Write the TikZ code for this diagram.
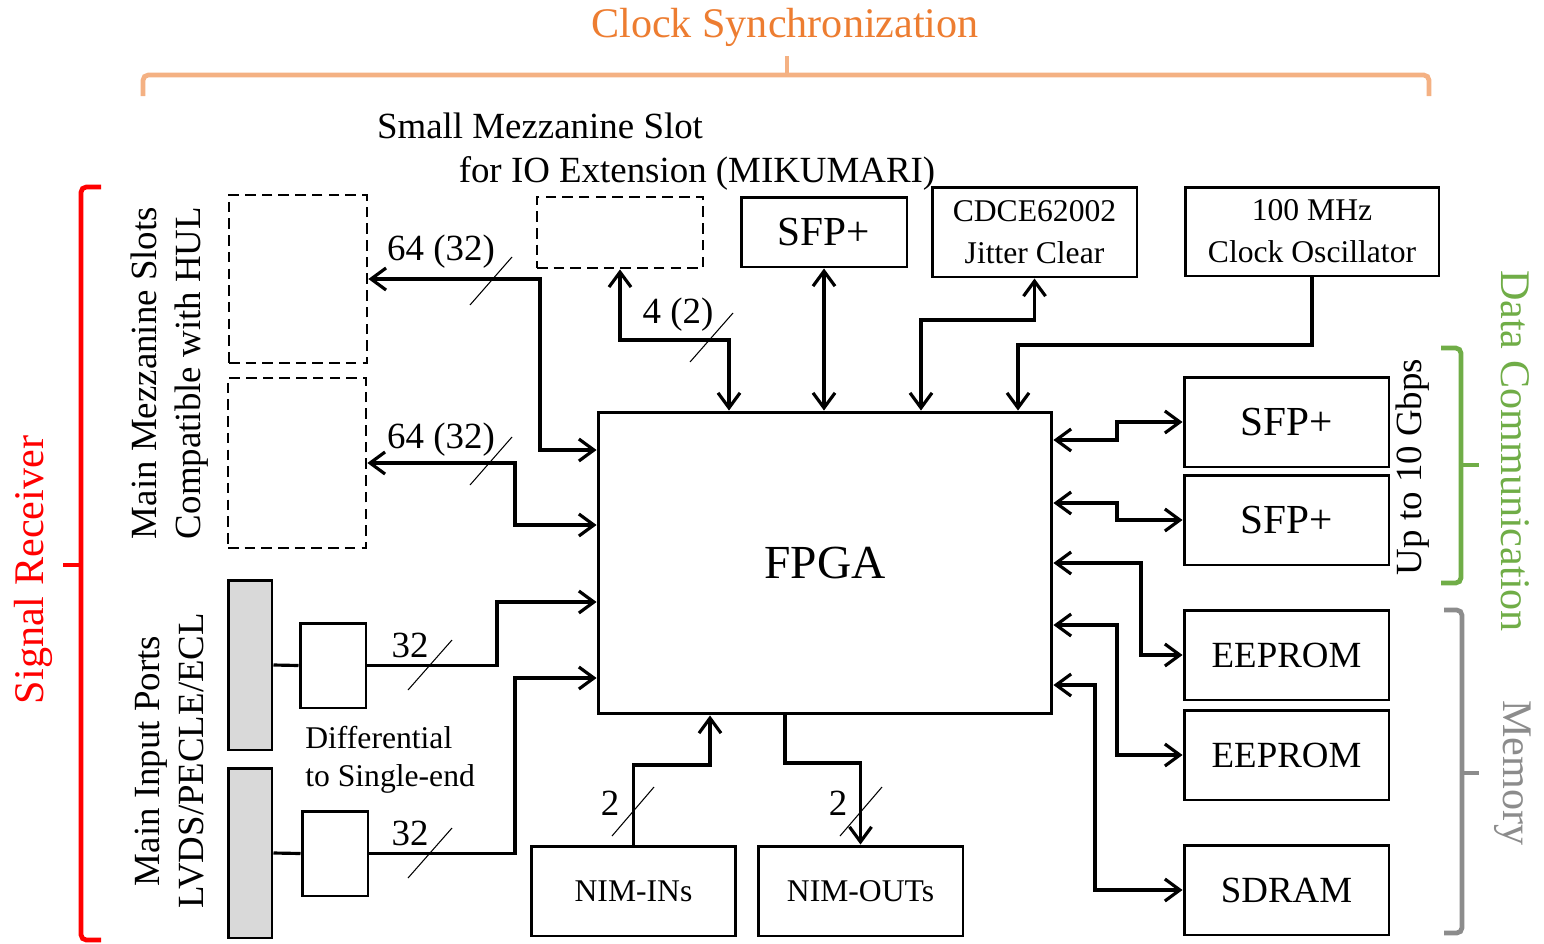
\documentclass[tikz,border=0pt]{standalone}
\usepackage{fontspec}
\setmainfont{Liberation Serif}
\usepackage{xcolor}
\usetikzlibrary{arrows.meta,positioning,calc}
\definecolor{clkorange}{HTML}{ED7D31}
\definecolor{clkbrace}{HTML}{F4B183}
\definecolor{datagreen}{HTML}{70AD47}
\definecolor{memgray}{HTML}{8C8C8C}
\tikzset{
  blockbox/.style={draw=black,line width=1.7pt,align=center,inner sep=0pt,
    font=\fontsize{21pt}{25pt}\selectfont},
  smallblock/.style={blockbox,font=\fontsize{18pt}{24pt}\selectfont},
  slotbox/.style={draw=black,line width=1.6pt,dash pattern=on 6pt off 3.5pt,inner sep=0pt},
  portbar/.style={draw=black,line width=1.7pt,fill=black!15,inner sep=0pt,
    minimum width=.88cm,minimum height=3.4cm},
  convbox/.style={draw=black,line width=1.7pt,inner sep=0pt,
    minimum width=1.32cm,minimum height=1.7cm},
  buslabel/.style={font=\fontsize{21pt}{25pt}\selectfont,inner sep=0pt},
  busmark/.style={line width=.6pt},
  link/.style={line width=1.8pt},
  onearrow/.style={link,-{Straight Barb[length=3mm,width=4.4mm]}},
  twoarrow/.style={link,{Straight Barb[length=3mm,width=4.4mm]}-{Straight Barb[length=3mm,width=4.4mm]}},
  groupbrace/.style={line width=2.7pt,rounded corners=3pt},
  grouplabel/.style={font=\fontsize{24pt}{29pt}\selectfont,inner sep=0pt}
}
\begin{document}
\begin{tikzpicture}[x=0.02cm,y=-0.02cm]
\useasboundingbox (0,0) rectangle (1544,943);
\node[blockbox,minimum width=9.08cm,minimum height=6.04cm,
  font=\fontsize{27pt}{32pt}\selectfont] (fpga) at (825,563) {FPGA};
\node[slotbox,minimum width=2.76cm,minimum height=3.36cm] (mezzA) at (298,279) {};
\node[slotbox,minimum width=2.76cm,minimum height=3.4cm] (mezzB) at (297,463) {};
\node[slotbox,minimum width=3.32cm,minimum height=1.42cm] (smz) at (620,232.5) {};
\node[blockbox,minimum width=3.32cm,minimum height=1.4cm,
  font=\fontsize{23.5pt}{28pt}\selectfont] (sfpT) at (824,232) {SFP+};
\node[smallblock,minimum width=4.1cm,minimum height=1.8cm] (cdce) at (1034.5,232) {CDCE62002\\Jitter Clear};
\node[smallblock,minimum width=5.08cm,minimum height=1.78cm] (osc) at (1312,231.5) {100 MHz\\Clock Oscillator};
\node[blockbox,minimum width=4.1cm,minimum height=1.8cm,
  font=\fontsize{23.5pt}{28pt}\selectfont] (sfpA) at (1286.5,422) {SFP+};
\node[blockbox,minimum width=4.1cm,minimum height=1.8cm,
  font=\fontsize{23.5pt}{28pt}\selectfont] (sfpB) at (1286.5,520) {SFP+};
\node[blockbox,minimum width=4.1cm,minimum height=1.8cm] (eepA) at (1286.5,655) {EEPROM};
\node[blockbox,minimum width=4.1cm,minimum height=1.8cm] (eepB) at (1286.5,755) {EEPROM};
\node[blockbox,minimum width=4.1cm,minimum height=1.8cm] (sdram) at (1286.5,890) {SDRAM};
\node[smallblock,minimum width=4.1cm,minimum height=1.8cm] (nimin) at (633.5,891) {NIM-INs};
\node[smallblock,minimum width=4.1cm,minimum height=1.8cm] (nimout) at (860.5,891) {NIM-OUTs};
\node[portbar] (barA) at (250,665) {};
\node[portbar] (barB) at (250,853) {};
\node[convbox] (diffA) at (333,665.5) {};
\node[convbox] (diffB) at (335,853.5) {};
\node[buslabel,anchor=base] (smztitle) at (540,138) {Small Mezzanine Slot};
\node[buslabel,anchor=base] (smzsub) at (697,182) {for IO Extension (MIKUMARI)};
\node[buslabel,rotate=90,align=center] (mezztext) at (170,373) {Main Mezzanine Slots\\Compatible with HUL};
\node[buslabel,rotate=90,align=center] (porttext) at (170,761) {Main Input Ports\\LVDS/PECLE/ECL};
\node[buslabel,anchor=west,align=left,font=\fontsize{18pt}{21.5pt}\selectfont] (difftext) at (305,760) {Differential\\to Single-end};
\node[buslabel,rotate=90] (gbps) at (1413,467) {Up to 10 Gbps};
\node[grouplabel,text=clkorange] (clktext) at (785,27) {Clock Synchronization};
\node[grouplabel,text=red,rotate=90] (sigtext) at (33,570) {Signal Receiver};
\node[grouplabel,text=datagreen,rotate=-90] (datatext) at (1515,451) {Data Communication};
\node[grouplabel,text=memgray,rotate=-90] (memtext) at (1513,773) {Memory};
\draw[groupbrace,clkbrace] (143,96) |- (1429,75) -- (1429,96);
\draw[groupbrace,clkbrace] (787,75) -- (787,56);
\draw[groupbrace,red] (101,187) -| (81,940) -- (101,940);
\draw[groupbrace,red] (81,565) -- (63,565);
\draw[groupbrace,datagreen] (1441,348) -| (1461,583) -- (1441,583);
\draw[groupbrace,datagreen] (1461,465) -- (1479,465);
\draw[groupbrace,memgray] (1444,610) -| (1462,933) -- (1444,933);
\draw[groupbrace,memgray] (1462,773) -- (1479,773);
\draw[twoarrow] (mezzA.east) -- (540,279) |- (fpga.west |- 0,450);
\node[buslabel] (busA) at (441,252) {64 (32)};
\draw[busmark] (470,305) -- (512,257);
\draw[twoarrow] (mezzB.east) -- (515,463) |- (fpga.west |- 0,525);
\node[buslabel] (busB) at (441,440) {64 (32)};
\draw[busmark] (470,485) -- (512,437);
\draw[link] (barA.east) -- (diffA.west);
\draw[onearrow] (diffA.east) -- (497,665.5) |- (fpga.west |- 0,602);
\node[buslabel] (busC) at (410,645) {32};
\draw[busmark] (408,690) -- (452,640);
\draw[link] (barB.east) -- (diffB.west);
\draw[onearrow] (diffB.east) -- (515,853.5) |- (fpga.west |- 0,678);
\node[buslabel] (busD) at (410,833) {32};
\draw[busmark] (408,878) -- (452,828);
\draw[twoarrow] (smz.south) -- (620,340) -| (fpga.north -| 729,0);
\node[buslabel] (busE) at (678,315) {4 (2)};
\draw[busmark] (690,362) -- (733,313);
\draw[twoarrow] (sfpT.south) -- (fpga.north -| sfpT.south);
\draw[twoarrow] (cdce.south) |- (921,320) -- (fpga.north -| 921,0);
\draw[onearrow] (osc.south) |- (1018,345) -- (fpga.north -| 1018,0);
\draw[twoarrow] (fpga.east |- 0,440) -- (1117,440) |- (sfpA.west);
\draw[twoarrow] (fpga.east |- 0,503) -- (1117,503) |- (sfpB.west);
\draw[twoarrow] (fpga.east |- 0,563) -- (1141,563) |- (eepA.west);
\draw[twoarrow] (fpga.east |- 0,625) -- (1117,625) |- (eepB.west);
\draw[twoarrow] (fpga.east |- 0,685) -- (1095,685) |- (sdram.west);
\draw[onearrow] (nimin.north) |- (710,765) -- (fpga.south -| 710,0);
\node[buslabel] (busF) at (610,803) {2};
\draw[busmark] (612,836) -- (654,787);
\draw[onearrow] (fpga.south -| 785,0) |- (860.5,763) -- (nimout.north);
\node[buslabel] (busG) at (838,803) {2};
\draw[busmark] (840,836) -- (882,787);
\end{tikzpicture}
\end{document}
